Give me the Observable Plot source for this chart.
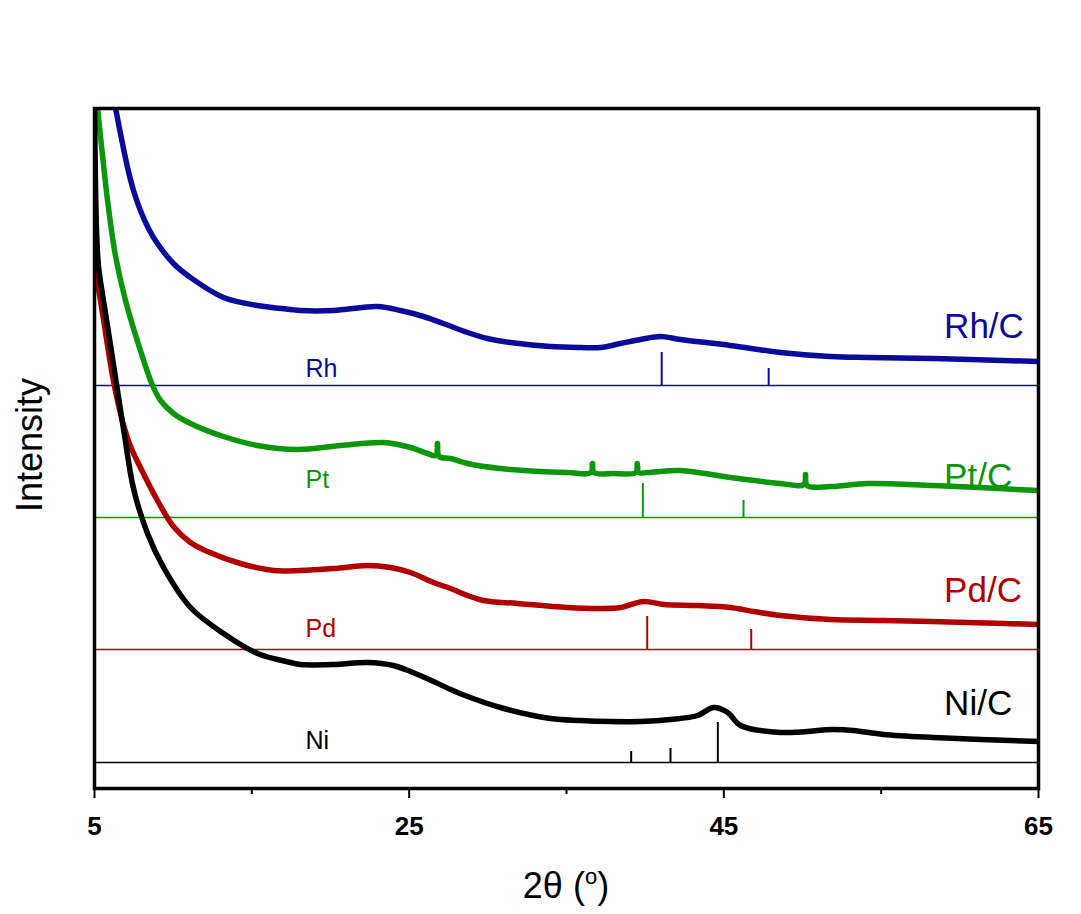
<!DOCTYPE html>
<html><head><meta charset="utf-8">
<script src="https://cdn.jsdelivr.net/npm/d3@7"></script>
<script src="https://cdn.jsdelivr.net/npm/@observablehq/plot@0.6"></script>
<style>body{margin:0;background:#fff}</style>
</head><body><div id="chart"></div>
<script>
// 2θ (degrees) and intensity (arbitrary units, stacked with offsets)
const rhX = [6.2, 6.33, 6.65, 7.1, 7.48, 7.92, 8.43, 9.0, 10.02, 11.1, 13.2, 15.36, 17.46, 18.09, 20.19, 22.99, 24.45, 25.91, 27.18, 28.71, 29.98, 31.44, 33.98, 35.89, 37.16, 38.43, 39.7, 40.97, 42.25, 45.42, 48.6, 51.78, 54.13, 58.33, 65];
const rhY = [691, 681, 655, 621, 598, 578, 560, 545, 525, 511, 491, 483, 479, 478, 478, 482, 478, 472, 465, 456, 450, 446, 442, 441, 441, 445, 449, 452, 449, 443, 436, 432, 431, 430, 427];

const ptX = [5.19, 5.51, 5.83, 6.33, 6.97, 7.92, 8.69, 9.2, 10.02, 11.1, 13.2, 15.36, 17.9, 20.64, 23.37, 25.08, 26.17, 26.7, 26.8, 26.9, 27.63, 28.71, 30.8, 35.06, 36.55, 36.65, 36.75, 38.0, 39.4, 39.5, 39.6, 40.15, 42.25, 45.42, 48.6, 50.09, 50.19, 50.29, 51.78, 54.13, 58.33, 65];
const ptY = [681, 633, 588, 533, 488, 438, 403, 388, 375, 365, 352, 343, 339, 343, 346, 341, 335, 333, 345, 332, 330, 325, 320, 316, 316, 325, 316, 315, 316, 325, 316, 316, 318, 311, 305, 304, 314, 303, 302, 305, 303, 298];

const pdX = [5.0, 5.38, 5.76, 6.14, 6.53, 6.91, 7.29, 7.92, 9.0, 10.02, 11.1, 12.18, 14.28, 16.38, 18.09, 20.19, 22.35, 23.81, 25.08, 26.55, 27.63, 28.71, 29.72, 31.89, 35.06, 37.16, 38.43, 39.9, 41.17, 43.33, 45.42, 46.89, 48.6, 51.78, 55.15, 60.49, 65];
const pdY = [523, 488, 450, 413, 383, 360, 342, 321, 288, 262, 246, 237, 225, 218, 218, 220, 223, 221, 216, 206, 200, 193, 188, 185, 181, 180, 181, 187, 184, 183, 181, 177, 173, 169, 168, 166, 164];

const niX = [5.0, 5.06, 5.13, 5.25, 5.57, 6.02, 6.46, 6.91, 7.48, 8.37, 9.39, 11.1, 13.2, 15.36, 17.46, 18.09, 20.19, 22.35, 24.0, 25.08, 26.55, 27.63, 28.71, 30.8, 33.98, 35.89, 37.8, 39.7, 41.61, 43.33, 44.35, 45.24, 46.06, 48.6, 51.97, 53.24, 55.15, 58.33, 65];
const niY = [680, 608, 558, 523, 488, 443, 398, 353, 300, 255, 221, 181, 155, 135, 126, 124, 124, 126, 123, 117, 107, 99, 92, 81, 70, 68, 67, 67, 69, 73, 81, 76, 63, 56, 59, 58, 54, 51, 47];

// reference patterns (stick positions, stick tops)
const refRhX = [41.05, 47.85]; const refRhTop = [436, 420];
const refPtX = [39.85, 46.25]; const refPtTop = [305, 288];
const refPdX = [40.13, 46.74]; const refPdTop = [172, 159];
const refNiX = [39.11, 41.61, 44.62]; const refNiTop = [37, 40, 66];

const sampleNames = ["Rh/C", "Pt/C", "Pd/C", "Ni/C"];
const refNames = ["Rh", "Pt", "Pd", "Ni"];
const baselines = [403, 271, 139, 26];
const sampleLabelY = [462, 312, 198, 85];
const refLabelY = [420, 309, 160, 48];
const colors = ["#0a0a9c", "#0c960c", "#b00000", "#000000"];

const xTicks = [5, 25, 45, 65];
const xMinorTicks = [15, 35, 55];

const series = [
  {x: rhX, y: rhY, rx: refRhX, rt: refRhTop},
  {x: ptX, y: ptY, rx: refPtX, rt: refPtTop},
  {x: pdX, y: pdY, rx: refPdX, rt: refPdTop},
  {x: niX, y: niY, rx: refNiX, rt: refNiTop}
];

const font = "'Liberation Sans', Arial, sans-serif";
const marks = [];
series.forEach((s, i) => {
  const c = colors[i];
  marks.push(Plot.ruleY([baselines[i]], {stroke: c, strokeWidth: 1.6}));
  const sticks = s.rx.map((x, j) => ({x, y1: baselines[i], y2: s.rt[j]}));
  marks.push(Plot.ruleX(sticks, {x: "x", y1: "y1", y2: "y2", stroke: c, strokeWidth: 2}));
  const pts = s.x.map((x, j) => ({x, y: s.y[j]}));
  marks.push(Plot.line(pts, {x: "x", y: "y", stroke: c, strokeWidth: 5.5, curve: "catmull-rom", clip: true}));
  marks.push(Plot.text([sampleNames[i]], {x: 59.0, y: sampleLabelY[i], text: d => d, fill: c, fontSize: 35, textAnchor: "start"}));
  marks.push(Plot.text([refNames[i]], {x: 18.41, y: refLabelY[i], text: d => d, fill: c, fontSize: 25, textAnchor: "start"}));
});
marks.push(Plot.frame({stroke: "black", strokeWidth: 3.5}));
marks.push(Plot.axisX({ticks: xTicks, tickSize: 10, tickPadding: 18, fontSize: 26, fontWeight: "bold", label: null, strokeWidth: 2}));
marks.push(Plot.axisX({ticks: xMinorTicks, tickSize: 6, text: null, label: null, strokeWidth: 2}));

const chart = Plot.plot({
  width: 1081, height: 914,
  marginLeft: 94, marginRight: 43, marginTop: 108, marginBottom: 126,
  style: {fontFamily: font, background: "white", color: "black"},
  x: {domain: [5, 65]},
  y: {domain: [0, 680], axis: null},
  marks
});

const svg = d3.select(chart);
svg.append("text")
  .attr("transform", "translate(42,445) rotate(-90)")
  .attr("text-anchor", "middle")
  .attr("font-size", 36).attr("font-family", font).attr("fill", "black")
  .text("Intensity");
const xt = svg.append("text")
  .attr("x", 566).attr("y", 898)
  .attr("text-anchor", "middle")
  .attr("font-size", 36).attr("font-family", font).attr("fill", "black");
xt.append("tspan").text("2θ (");
xt.append("tspan").attr("font-size", 22).attr("dy", -14).text("o");
xt.append("tspan").attr("dy", 14).text(")");

document.getElementById("chart").appendChild(chart);
</script>
</body></html>
